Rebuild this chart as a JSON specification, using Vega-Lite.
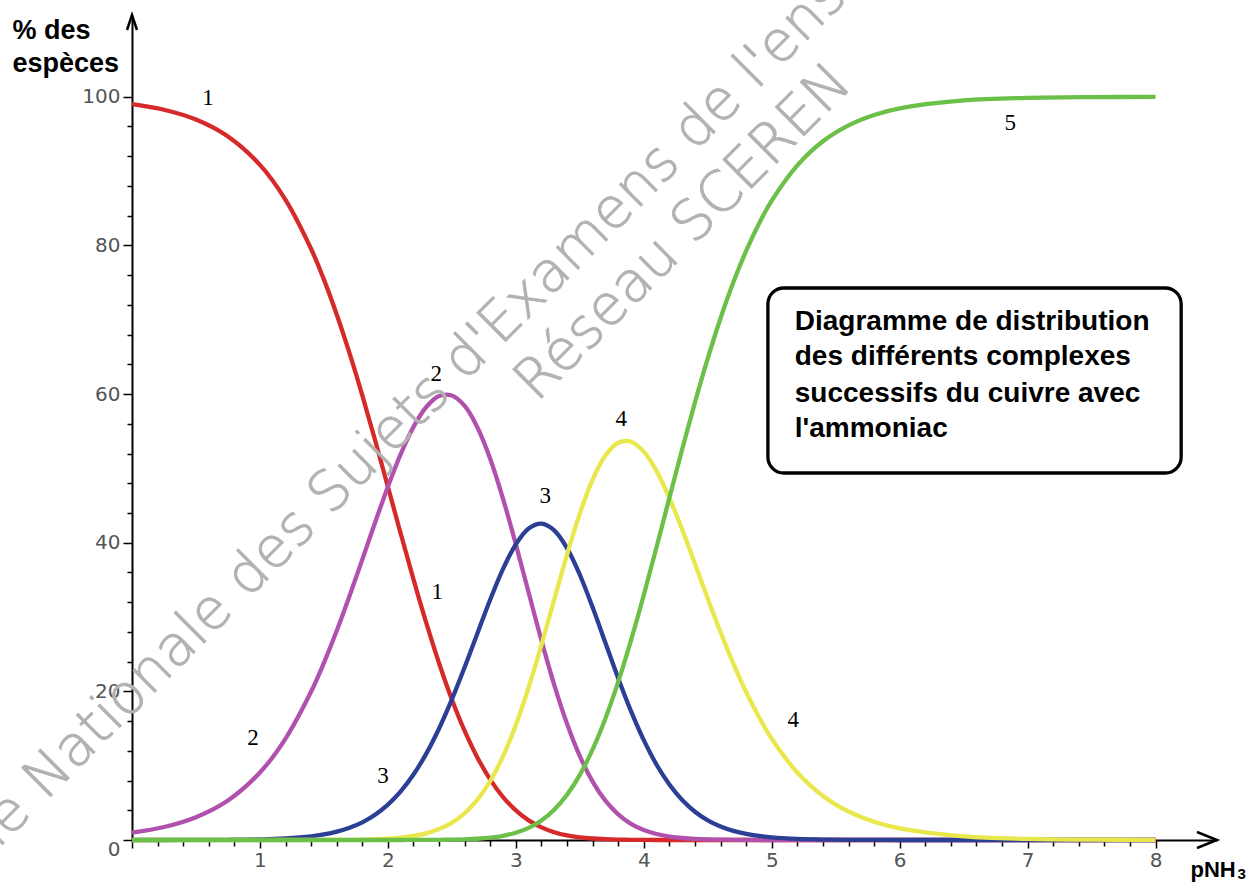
{
  "$schema": "https://vega.github.io/schema/vega-lite/v6.json",
  "width": 1085,
  "height": 825,
  "autosize": "none",
  "padding": {"left": 132, "top": 15, "right": 32, "bottom": 42},
  "background": "white",
  "config": {"view": {"stroke": null}},
  "datasets": {
    "curves": [
      {"p": 0, "c1": 99.01, "c2": 0.99, "c3": 0, "c4": 0, "c5": 0},
      {"p": 0.25, "c1": 98.25, "c2": 1.75, "c3": 0, "c4": 0, "c5": 0},
      {"p": 0.5, "c1": 96.93, "c2": 3.07, "c3": 0.01, "c4": 0, "c5": 0},
      {"p": 0.75, "c1": 94.65, "c2": 5.32, "c3": 0.03, "c4": 0, "c5": 0},
      {"p": 1.0, "c1": 90.83, "c2": 9.08, "c3": 0.09, "c4": 0, "c5": 0},
      {"p": 1.2, "c1": 86.13, "c2": 13.65, "c3": 0.22, "c4": 0, "c5": 0},
      {"p": 1.4, "c1": 79.52, "c2": 19.97, "c3": 0.5, "c4": 0.01, "c5": 0},
      {"p": 1.5, "c1": 75.4, "c2": 23.84, "c3": 0.75, "c4": 0.01, "c5": 0},
      {"p": 1.6, "c1": 70.71, "c2": 28.15, "c3": 1.12, "c4": 0.02, "c5": 0},
      {"p": 1.7, "c1": 65.5, "c2": 32.83, "c3": 1.65, "c4": 0.03, "c5": 0},
      {"p": 1.8, "c1": 59.82, "c2": 37.74, "c3": 2.38, "c4": 0.06, "c5": 0},
      {"p": 1.9, "c1": 53.78, "c2": 42.72, "c3": 3.39, "c4": 0.11, "c5": 0},
      {"p": 2.0, "c1": 47.53, "c2": 47.53, "c3": 4.75, "c4": 0.19, "c5": 0},
      {"p": 2.1, "c1": 41.23, "c2": 51.91, "c3": 6.54, "c4": 0.32, "c5": 0},
      {"p": 2.2, "c1": 35.07, "c2": 55.58, "c3": 8.81, "c4": 0.54, "c5": 0.01},
      {"p": 2.3, "c1": 29.2, "c2": 58.26, "c3": 11.62, "c4": 0.9, "c5": 0.01},
      {"p": 2.4, "c1": 23.78, "c2": 59.73, "c3": 15.0, "c4": 1.47, "c5": 0.02},
      {"p": 2.5, "c1": 18.91, "c2": 59.8, "c3": 18.91, "c4": 2.33, "c5": 0.05},
      {"p": 2.6, "c1": 14.67, "c2": 58.4, "c3": 23.25, "c4": 3.6, "c5": 0.09},
      {"p": 2.7, "c1": 11.08, "c2": 55.51, "c3": 27.82, "c4": 5.43, "c5": 0.17},
      {"p": 2.8, "c1": 8.13, "c2": 51.27, "c3": 32.35, "c4": 7.94, "c5": 0.32},
      {"p": 2.9, "c1": 5.78, "c2": 45.91, "c3": 36.47, "c4": 11.27, "c5": 0.57},
      {"p": 3.0, "c1": 3.98, "c2": 39.78, "c3": 39.78, "c4": 15.48, "c5": 0.98},
      {"p": 3.1, "c1": 2.64, "c2": 33.29, "c3": 41.91, "c4": 20.53, "c5": 1.63},
      {"p": 3.2, "c1": 1.7, "c2": 26.86, "c3": 42.57, "c4": 26.25, "c5": 2.63},
      {"p": 3.3, "c1": 1.05, "c2": 20.88, "c3": 41.66, "c4": 32.34, "c5": 4.07},
      {"p": 3.4, "c1": 0.62, "c2": 15.64, "c3": 39.28, "c4": 38.38, "c5": 6.08},
      {"p": 3.5, "c1": 0.36, "c2": 11.29, "c3": 35.69, "c4": 43.91, "c5": 8.76},
      {"p": 3.6, "c1": 0.2, "c2": 7.86, "c3": 31.3, "c4": 48.47, "c5": 12.18},
      {"p": 3.7, "c1": 0.11, "c2": 5.29, "c3": 26.53, "c4": 51.72, "c5": 16.36},
      {"p": 3.8, "c1": 0.06, "c2": 3.45, "c3": 21.77, "c4": 53.44, "c5": 21.28},
      {"p": 3.9, "c1": 0.03, "c2": 2.18, "c3": 17.34, "c4": 53.59, "c5": 26.86},
      {"p": 4.0, "c1": 0.01, "c2": 1.34, "c3": 13.43, "c4": 52.25, "c5": 32.97},
      {"p": 4.1, "c1": 0, "c2": 0.81, "c3": 10.13, "c4": 49.63, "c5": 39.42},
      {"p": 4.2, "c1": 0, "c2": 0.47, "c3": 7.47, "c4": 46.03, "c5": 46.03},
      {"p": 4.3, "c1": 0, "c2": 0.27, "c3": 5.38, "c4": 41.77, "c5": 52.58},
      {"p": 4.4, "c1": 0, "c2": 0.15, "c3": 3.8, "c4": 37.16, "c5": 58.89},
      {"p": 4.5, "c1": 0, "c2": 0.08, "c3": 2.64, "c4": 32.48, "c5": 64.8},
      {"p": 4.6, "c1": 0, "c2": 0.05, "c3": 1.81, "c4": 27.95, "c5": 70.2},
      {"p": 4.7, "c1": 0, "c2": 0.02, "c3": 1.22, "c4": 23.73, "c5": 75.03},
      {"p": 4.8, "c1": 0, "c2": 0.01, "c3": 0.81, "c4": 19.91, "c5": 79.27},
      {"p": 4.9, "c1": 0, "c2": 0, "c3": 0.54, "c4": 16.54, "c5": 82.92},
      {"p": 5.0, "c1": 0, "c2": 0, "c3": 0.35, "c4": 13.63, "c5": 86.02},
      {"p": 5.2, "c1": 0, "c2": 0, "c3": 0.15, "c4": 9.08, "c5": 90.77},
      {"p": 5.4, "c1": 0, "c2": 0, "c3": 0.06, "c4": 5.93, "c5": 94.01},
      {"p": 5.6, "c1": 0, "c2": 0, "c3": 0.03, "c4": 3.83, "c5": 96.15},
      {"p": 5.8, "c1": 0, "c2": 0, "c3": 0.01, "c4": 2.45, "c5": 97.55},
      {"p": 6.0, "c1": 0, "c2": 0, "c3": 0, "c4": 1.56, "c5": 98.44},
      {"p": 6.5, "c1": 0, "c2": 0, "c3": 0, "c4": 0.5, "c5": 99.5},
      {"p": 7.0, "c1": 0, "c2": 0, "c3": 0, "c4": 0.16, "c5": 99.84},
      {"p": 7.5, "c1": 0, "c2": 0, "c3": 0, "c4": 0.05, "c5": 99.95},
      {"p": 8.0, "c1": 0, "c2": 0, "c3": 0, "c4": 0.02, "c5": 99.98}
    ],
    "labels": [
      {"p": 0.594, "v": 99.9, "t": "1"},
      {"p": 2.385, "v": 33.4, "t": "1"},
      {"p": 0.946, "v": 13.7, "t": "2"},
      {"p": 2.377, "v": 62.7, "t": "2"},
      {"p": 1.962, "v": 8.6, "t": "3"},
      {"p": 3.229, "v": 46.3, "t": "3"},
      {"p": 3.823, "v": 56.7, "t": "4"},
      {"p": 5.168, "v": 16.2, "t": "4"},
      {"p": 6.865, "v": 96.5, "t": "5"}
    ],
    "box": [{"p": 4.97, "p2": 8.2, "v": 74.27, "v2": 49.38}],
    "boxText": [
      {"p": 5.18, "v": 68.62, "t": "Diagramme de distribution"},
      {"p": 5.18, "v": 63.91, "t": "des différents complexes"},
      {"p": 5.18, "v": 58.93, "t": "successifs du cuivre avec"},
      {"p": 5.18, "v": 54.22, "t": "l'ammoniac"}
    ],
    "arrows": [
      {"p": 8.48, "v": 0, "k": "x"},
      {"p": 0, "v": 111, "k": "y"}
    ],
    "sub": [{"p": 8.64, "v": -5.3, "t": "3"}],
    "watermark": [
      {"p": -2.038, "v": -15.06, "t": "Banque Nationale des Sujets d'Examens de l'enseignement professionnel"},
      {"p": 3.07, "v": 60.4, "t": "Réseau SCEREN"}
    ]
  },
  "encoding": {
    "x": {
      "field": "p",
      "type": "quantitative",
      "scale": {"domain": [0, 8.48], "nice": false, "zero": false},
      "axis": {
        "values": [0, 0.2, 0.4, 0.6, 0.8, 1, 1.2, 1.4, 1.6, 1.8, 2, 2.2, 2.4, 2.6, 2.8, 3, 3.2, 3.4, 3.6, 3.8, 4, 4.2, 4.4, 4.6, 4.8, 5, 5.2, 5.4, 5.6, 5.8, 6, 6.2, 6.4, 6.6, 6.8, 7, 7.2, 7.4, 7.6, 7.8, 8],
        "labelExpr": "datum.value >= 1 && datum.value % 1 === 0 ? format(datum.value, 'd') : ''",
        "labelFont": "DejaVu Sans",
        "labelFontSize": 20,
        "labelColor": "#555555",
        "labelPadding": 2,
        "labelFlush": false,
        "labelOverlap": false,
        "grid": false,
        "domainColor": "black",
        "domainWidth": 2,
        "tickColor": "black",
        "tickWidth": 1.5,
        "tickSize": {"condition": {"test": "datum.value % 1 === 0", "value": 8}, "value": 6},
        "title": "pNH",
        "titleX": 1058,
        "titleY": 36,
        "titleAlign": "left",
        "titleBaseline": "alphabetic",
        "titleFont": "Liberation Sans",
        "titleFontSize": 22,
        "titleFontWeight": "bold",
        "titleColor": "black"
      }
    },
    "y": {
      "field": "v",
      "type": "quantitative",
      "scale": {"domain": [0, 111], "nice": false},
      "axis": {
        "values": [0, 4, 8, 12, 16, 20, 24, 28, 32, 36, 40, 44, 48, 52, 56, 60, 64, 68, 72, 76, 80, 84, 88, 92, 96, 100],
        "labelExpr": "datum.value % 20 === 0 ? format(datum.value, 'd') : ''",
        "labelFont": "DejaVu Sans",
        "labelFontSize": 20,
        "labelColor": "#555555",
        "labelPadding": 3,
        "labelOverlap": false,
        "labelFlush": false,
        "labelOffset": {"condition": {"test": "datum.value === 0", "value": 9}, "value": 0},
        "grid": false,
        "domainColor": "black",
        "domainWidth": 2,
        "tickColor": "black",
        "tickWidth": 1.5,
        "tickSize": {"condition": {"test": "datum.value % 20 === 0", "value": 9}, "value": 5},
        "title": ["% des", "espèces"],
        "titleAngle": 0,
        "titleX": -120,
        "titleY": 23,
        "titleAlign": "left",
        "titleBaseline": "alphabetic",
        "titleLineHeight": 33.5,
        "titleFont": "Liberation Sans",
        "titleFontSize": 27,
        "titleFontWeight": "bold",
        "titleColor": "black"
      }
    }
  },
  "layer": [
    {
      "data": {"name": "curves"},
      "transform": [{"fold": ["c1", "c2", "c3", "c4", "c5"], "as": ["s", "v"]}],
      "mark": {"type": "line", "interpolate": "catmull-rom", "strokeWidth": 4.3},
      "encoding": {
        "color": {
          "field": "s",
          "type": "nominal",
          "scale": {"domain": ["c1", "c2", "c3", "c4", "c5"], "range": ["#d62a2a", "#b251ad", "#2b3f94", "#e8e84c", "#6cbf48"]},
          "legend": null
        }
      }
    },
    {
      "data": {"name": "labels"},
      "mark": {"type": "text", "font": "Liberation Serif", "fontSize": 23, "color": "black", "align": "center", "baseline": "middle"},
      "encoding": {"text": {"field": "t"}}
    },
    {
      "data": {"name": "box"},
      "mark": {"type": "rect", "fill": "white", "stroke": "black", "strokeWidth": 3.3, "cornerRadius": 16},
      "encoding": {"x2": {"field": "p2"}, "y2": {"field": "v2"}}
    },
    {
      "data": {"name": "boxText"},
      "mark": {"type": "text", "font": "Liberation Sans", "fontSize": 28, "fontWeight": "bold", "color": "black", "align": "left", "baseline": "alphabetic"},
      "encoding": {"text": {"field": "t"}}
    },
    {
      "data": {"name": "sub"},
      "mark": {"type": "text", "font": "Liberation Sans", "fontSize": 15, "fontWeight": "bold", "color": "black", "align": "left", "baseline": "alphabetic"},
      "encoding": {"text": {"field": "t"}}
    },
    {
      "data": {"name": "arrows"},
      "mark": {"type": "point", "filled": false, "stroke": "black", "strokeWidth": 2.5, "size": 400, "opacity": 1},
      "encoding": {
        "shape": {
          "field": "k",
          "type": "nominal",
          "scale": {"domain": ["x", "y"], "range": ["M-2,-0.8L0,0L-2,0.8", "M-0.5,1.5L0,0L0.5,1.5"]},
          "legend": null
        }
      }
    },
    {
      "data": {"name": "watermark"},
      "mark": {"type": "text", "font": "DejaVu Sans", "fontWeight": 200, "fontSize": 56, "color": "#b2b2b2", "stroke": "#b2b2b2", "strokeWidth": 0.9, "align": "left", "baseline": "middle", "angle": -45},
      "encoding": {"text": {"field": "t"}}
    }
  ]
}
